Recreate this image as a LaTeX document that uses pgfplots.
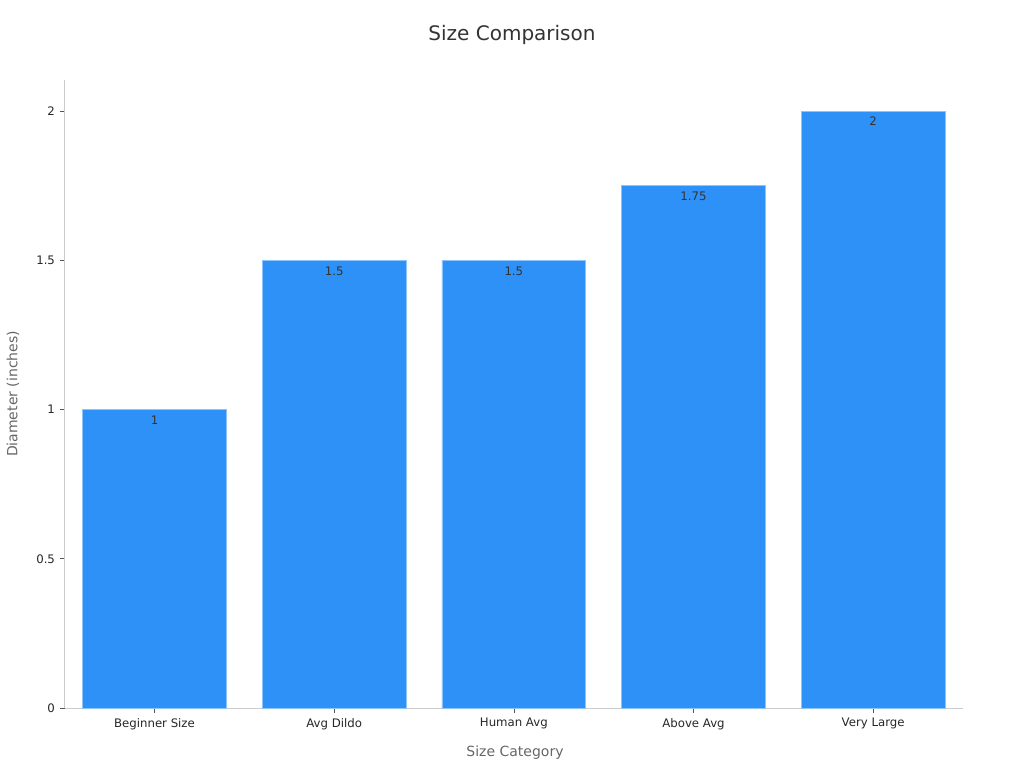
\documentclass[border=0pt]{standalone}
\usepackage{pgfplots}
\pgfplotsset{compat=1.18}
\usepackage{fontspec}
\setmainfont{DejaVu Sans}
\definecolor{barblue}{HTML}{2E91F8}
\definecolor{baredge}{HTML}{8CC4FB}
\definecolor{axgray}{HTML}{CCCCCC}
\definecolor{tickgray}{HTML}{555555}
\definecolor{labgray}{HTML}{666666}
\definecolor{txtdark}{HTML}{333333}

\begin{document}
\begin{tikzpicture}
  \path (0,0) rectangle (768pt,576pt);
  \begin{axis}[
      at={(48.5pt,45pt)}, anchor=south west,
      scale only axis,
      width=673.75pt, height=471pt,
      xmin=-0.5, xmax=4.5,
      ymin=0, ymax=2.104,
      ybar, bar width=0.8,
      axis x line*=bottom, axis y line*=left,
      axis line style={draw=axgray, line width=0.6pt, -},
      xtick=data,
      xticklabels={Beginner Size, Avg Dildo, Human Avg, Above Avg, Very Large},
      ytick={0,0.5,1,1.5,2},
      tick align=outside,
      major tick length=3.75pt,
      tick style={draw=tickgray, line width=0.5pt},
      ticklabel style={font=\fontsize{8.8}{10}\selectfont, text=black!85},
      xticklabel style={yshift=-0.5pt},
      /pgf/number format/assume math mode=true,
      nodes near coords,
      every node near coord/.append style={anchor=north, yshift=-1pt,
        font=\fontsize{8.8}{10}\selectfont, text=txtdark},
    ]
    \addplot[fill=barblue, draw=baredge, line width=0.6pt]
      coordinates {(0,1) (1,1.5) (2,1.5) (3,1.75) (4,2)};
  \end{axis}
  \node[font=\fontsize{15}{18}\selectfont, text=txtdark] at (384pt,549.75pt) {Size Comparison};
  \node[font=\fontsize{10.5}{12}\selectfont, text=labgray] at (386.25pt,11.25pt) {Size Category};
  \node[font=\fontsize{10.5}{12}\selectfont, text=labgray, rotate=90] at (9.75pt,280.5pt) {Diameter (inches)};
\end{tikzpicture}
\end{document}
